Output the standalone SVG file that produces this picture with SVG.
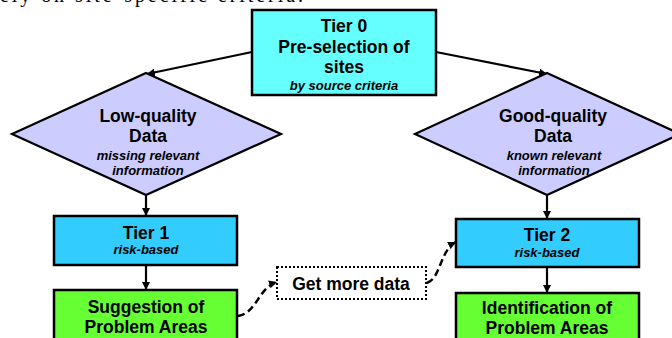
<svg xmlns="http://www.w3.org/2000/svg" width="672" height="338" viewBox="0 0 672 338">
<defs>
<style>
.box{stroke:#000;stroke-width:2.5}
.t0{fill:#66FFFF}
.dia{fill:#CCCCFF;stroke:#000;stroke-width:2.2;stroke-linejoin:miter}
.tier{fill:#33CCFF}
.grn{fill:#66FF33}
.lbl{font-family:"Liberation Sans",Arial,sans-serif;font-weight:bold;font-size:17.5px;text-anchor:middle;fill:#000}
.sub{font-family:"Liberation Sans",Arial,sans-serif;font-weight:bold;font-style:italic;font-size:13px;text-anchor:middle;fill:#000}
.con{fill:none;stroke:#000;stroke-width:2.2}
.dash{fill:none;stroke:#000;stroke-width:2.5;stroke-dasharray:7,4}
.dot{fill:#fff;stroke:#000;stroke-width:2;stroke-dasharray:2,2}
</style>
<marker id="ah" viewBox="0 0 10 10" refX="10" refY="5" markerWidth="8" markerHeight="8" markerUnits="userSpaceOnUse" orient="auto">
<path d="M0,0 L10,5 L0,10 z" fill="#000"/>
</marker>
</defs>
<text x="0" y="2" font-family="'Liberation Serif','Times New Roman',serif" font-size="20" textLength="303" lengthAdjust="spacing" fill="#000">ely on site-specific criteria.</text>
<g id="connectors">
<line class="con" x1="252" y1="52" x2="147" y2="74" marker-end="url(#ah)"/>
<line class="con" x1="436" y1="52" x2="547" y2="74" marker-end="url(#ah)"/>
<line class="con" x1="146" y1="196" x2="146" y2="216" marker-end="url(#ah)"/>
<line class="con" x1="146" y1="266" x2="146" y2="290" marker-end="url(#ah)"/>
<line class="con" x1="547" y1="196" x2="547" y2="219" marker-end="url(#ah)"/>
<line class="con" x1="547" y1="268" x2="547" y2="293" marker-end="url(#ah)"/>
<path class="dash" d="M238,316 C257,313 258,288 277,282" marker-end="url(#ah)"/>
<path class="dash" d="M427,283 C441,278 440,250 456,242" marker-end="url(#ah)"/>
</g>
<g id="tier0">
<rect class="box t0" x="252" y="10" width="184" height="85"/>
<text class="lbl" x="344" y="32">Tier 0</text>
<text class="lbl" x="344" y="53">Pre-selection of</text>
<text class="lbl" x="344" y="73">sites</text>
<text class="sub" x="344" y="90">by source criteria</text>
</g>
<g id="lowq">
<polygon class="dia" points="146,73 281,134 146,195 12,134"/>
<text class="lbl" x="148" y="122">Low-quality</text>
<text class="lbl" x="148" y="142">Data</text>
<text class="sub" x="148" y="160">missing relevant</text>
<text class="sub" x="148" y="175">information</text>
</g>
<g id="goodq">
<polygon class="dia" points="547,73 680,134 547,195 415,134"/>
<text class="lbl" x="553" y="122">Good-quality</text>
<text class="lbl" x="553" y="142">Data</text>
<text class="sub" x="554" y="160">known relevant</text>
<text class="sub" x="554" y="175">information</text>
</g>
<g id="tier1">
<rect class="box tier" x="54" y="216" width="183" height="49"/>
<text class="lbl" x="146" y="239">Tier 1</text>
<text class="sub" x="146" y="254">risk-based</text>
</g>
<g id="tier2">
<rect class="box tier" x="456" y="219" width="183" height="48"/>
<text class="lbl" x="547" y="241">Tier 2</text>
<text class="sub" x="547" y="257">risk-based</text>
</g>
<g id="suggestion">
<rect class="box grn" x="54" y="290" width="183" height="60"/>
<text class="lbl" x="146" y="313">Suggestion of</text>
<text class="lbl" x="146" y="333">Problem Areas</text>
</g>
<g id="identification">
<rect class="box grn" x="456" y="293" width="183" height="60"/>
<text class="lbl" x="547" y="314">Identification of</text>
<text class="lbl" x="547" y="334">Problem Areas</text>
</g>
<g id="getmore">
<rect class="dot" x="277" y="267" width="149" height="32"/>
<text class="lbl" x="351" y="290">Get more data</text>
</g>
</svg>
